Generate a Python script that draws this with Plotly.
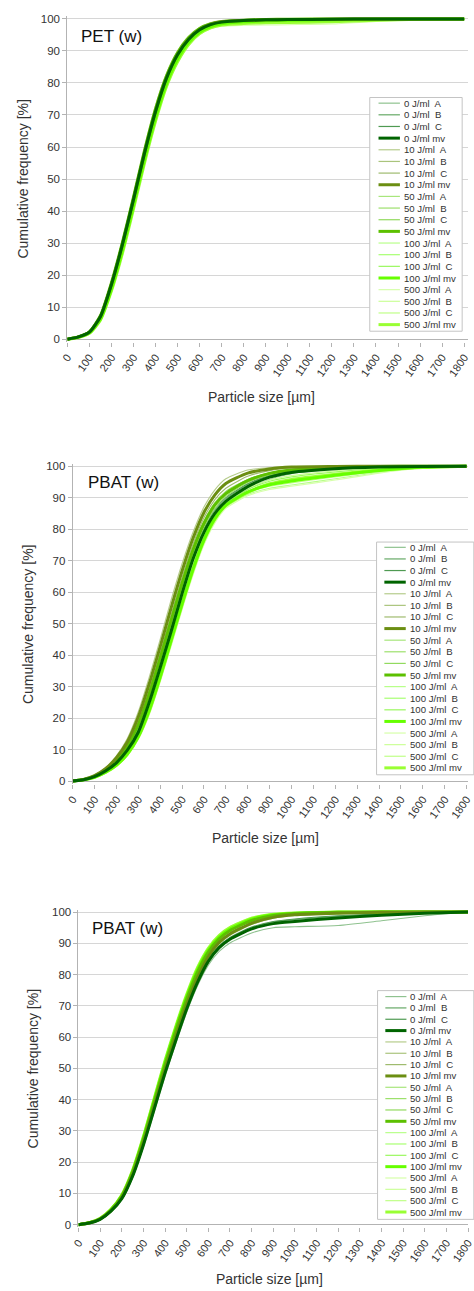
import plotly.graph_objects as go

W, H = 474, 1291

# ---------------- data ----------------
X = [0, 50, 100, 150, 200, 250, 300, 350, 400, 450, 500, 550, 600, 650, 700, 800, 900, 1000, 1200, 1400, 1600, 1800]

NAMES = ["0 J/ml  A", "0 J/ml  B", "0 J/ml  C", "0 J/ml mv",
         "10 J/ml  A", "10 J/ml  B", "10 J/ml  C", "10 J/ml mv",
         "50 J/ml  A", "50 J/ml  B", "50 J/ml  C", "50 J/ml mv",
         "100 J/ml  A", "100 J/ml  B", "100 J/ml  C", "100 J/ml mv",
         "500 J/ml  A", "500 J/ml  B", "500 J/ml  C", "500 J/ml mv"]

COLORS = ["#8fc28f", "#66a966", "#4f9a52", "#006400",
          "#b6cc8c", "#aac47c", "#9fbb6e", "#6b8e12",
          "#a8e67c", "#9de06c", "#92da5e", "#5cc000",
          "#b8ff8a", "#a8ff72", "#9af85e", "#66ff00",
          "#d6ffaa", "#ccff99", "#c0ff88", "#99ff33"]

# ---- PET (w) ----
PET_0_A = [0, 0.8, 2.4, 7.4, 17.8, 30.5, 44.6, 59.2, 72.2, 82.5, 89.6, 94.2, 97.0, 98.5, 99.2, 99.6, 99.8, 99.9, 100, 100, 100, 100]
PET_0_B = [0, 0.6, 2.0, 6.6, 16.3, 28.6, 42.6, 57.0, 70.0, 80.6, 88.0, 93.0, 96.2, 97.9, 98.8, 99.3, 99.6, 99.7, 99.9, 100, 100, 100]
PET_0_C = [0, 0.7, 2.2, 7.0, 16.9, 29.4, 43.3, 57.8, 70.9, 81.4, 88.7, 93.5, 96.5, 98.1, 98.9, 99.4, 99.7, 99.8, 99.9, 100, 100, 100]
PET_0_MV = [0, 0.7, 2.2, 7.0, 17.0, 29.5, 43.5, 58.0, 71.0, 81.5, 88.8, 93.6, 96.6, 98.2, 99.0, 99.5, 99.7, 99.8, 99.9, 100, 100, 100]
PET_10_A = [0, 0.7, 2.3, 7.2, 17.4, 30.0, 44.0, 58.5, 71.5, 82.0, 89.2, 94.0, 96.9, 98.4, 99.1, 99.6, 99.8, 99.9, 100, 100, 100, 100]
PET_10_B = [0, 0.6, 2.1, 6.8, 16.6, 29.0, 43.0, 57.5, 70.6, 81.1, 88.5, 93.4, 96.5, 98.1, 99.0, 99.5, 99.7, 99.8, 99.9, 100, 100, 100]
PET_10_C = [0, 0.7, 2.2, 7.1, 17.2, 29.8, 43.8, 58.3, 71.3, 81.8, 89.0, 93.8, 96.8, 98.3, 99.1, 99.5, 99.7, 99.8, 99.9, 100, 100, 100]
PET_10_MV = [0, 0.7, 2.2, 7.0, 17.1, 29.6, 43.6, 58.1, 71.1, 81.6, 88.9, 93.7, 96.7, 98.3, 99.1, 99.5, 99.7, 99.8, 99.9, 100, 100, 100]
PET_50_A = [0, 0.8, 2.5, 7.6, 18.2, 31.0, 45.2, 59.8, 72.8, 83.0, 90.0, 94.6, 97.3, 98.7, 99.3, 99.7, 99.9, 99.9, 100, 100, 100, 100]
PET_50_B = [0, 0.7, 2.3, 7.2, 17.5, 30.2, 44.3, 58.9, 71.9, 82.2, 89.4, 94.1, 97.0, 98.5, 99.2, 99.6, 99.8, 99.9, 100, 100, 100, 100]
PET_50_C = [0, 0.7, 2.2, 7.0, 17.0, 29.5, 43.5, 58.0, 71.0, 81.5, 88.8, 93.6, 96.6, 98.2, 99.0, 99.5, 99.7, 99.8, 99.9, 100, 100, 100]
PET_50_MV = [0, 0.7, 2.3, 7.3, 17.6, 30.2, 44.3, 58.9, 71.9, 82.2, 89.4, 94.1, 97.0, 98.5, 99.2, 99.6, 99.8, 99.9, 100, 100, 100, 100]
PET_100_A = [0, 0.6, 1.9, 6.2, 15.6, 27.7, 41.6, 56.0, 69.0, 79.8, 87.4, 92.6, 95.8, 97.6, 98.5, 99.1, 99.4, 99.6, 99.8, 99.9, 100, 100]
PET_100_B = [0, 0.5, 1.8, 6.0, 15.2, 27.2, 41.0, 55.4, 68.4, 79.2, 86.9, 92.2, 95.5, 97.4, 98.3, 98.9, 99.2, 99.4, 99.6, 99.8, 100, 100]
PET_100_C = [0, 0.6, 2.0, 6.4, 16.0, 28.2, 42.2, 56.6, 69.6, 80.3, 87.9, 93.0, 96.1, 97.8, 98.7, 99.2, 99.5, 99.7, 99.8, 99.9, 100, 100]
PET_100_MV = [0, 0.6, 1.9, 6.2, 15.6, 27.7, 41.6, 56.0, 69.0, 79.8, 87.4, 92.6, 95.8, 97.6, 98.5, 99.1, 99.4, 99.6, 99.7, 99.9, 100, 100]
PET_500_A = [0, 0.5, 1.7, 5.7, 14.6, 26.2, 40.0, 54.4, 67.4, 78.4, 86.2, 91.6, 95.0, 96.9, 97.7, 98.0, 98.1, 98.2, 98.4, 99.2, 99.8, 100]
PET_500_B = [0, 0.5, 1.8, 5.9, 15.0, 26.8, 40.6, 55.0, 68.0, 78.9, 86.6, 92.0, 95.4, 97.3, 98.2, 98.7, 98.9, 99.0, 99.3, 99.7, 99.9, 100]
PET_500_C = [0, 0.6, 1.9, 6.1, 15.4, 27.4, 41.2, 55.6, 68.6, 79.4, 87.1, 92.4, 95.7, 97.5, 98.4, 99.0, 99.3, 99.5, 99.7, 99.9, 100, 100]
PET_500_MV = [0, 0.5, 1.8, 5.9, 15.0, 26.8, 40.6, 55.0, 68.0, 78.9, 86.6, 92.0, 95.4, 97.2, 98.1, 98.6, 98.8, 98.9, 99.1, 99.6, 99.9, 100]

# ---- PBAT (w), first ----
PB1_0_A = [0, 0.4, 1.3, 3.0, 5.4, 9.2, 14.6, 23.6, 34.4, 45.8, 57.8, 68.8, 77.6, 83.8, 87.8, 92.6, 95.8, 97.6, 99.0, 99.6, 99.9, 100]
PB1_0_B = [0, 0.4, 1.4, 3.3, 6.0, 10.2, 16.2, 26.0, 37.2, 48.8, 60.8, 71.8, 80.2, 86.0, 89.6, 94.2, 97.0, 98.4, 99.4, 99.8, 100, 100]
PB1_0_C = [0, 0.5, 1.5, 3.4, 6.2, 10.5, 16.8, 26.8, 38.2, 49.8, 61.8, 72.6, 80.8, 86.5, 90.0, 94.4, 97.2, 98.5, 99.4, 99.8, 100, 100]
PB1_0_MV = [0, 0.4, 1.4, 3.2, 5.8, 9.8, 15.5, 25.0, 36.0, 47.5, 59.5, 70.5, 79.0, 85.0, 88.8, 93.5, 96.5, 98.0, 99.2, 99.7, 99.9, 100]
PB1_10_A = [0, 0.5, 1.8, 4.2, 8.0, 13.5, 22.0, 33.0, 45.0, 57.5, 69.0, 79.0, 87.0, 92.5, 96.0, 98.8, 99.6, 99.9, 100, 100, 100, 100]
PB1_10_B = [0, 0.5, 1.7, 3.9, 7.3, 12.4, 20.2, 30.6, 42.4, 54.8, 66.6, 77.0, 85.2, 90.8, 94.4, 97.8, 99.2, 99.7, 100, 100, 100, 100]
PB1_10_C = [0, 0.5, 1.6, 3.7, 6.9, 11.7, 19.0, 29.0, 40.6, 52.8, 64.6, 75.2, 83.6, 89.4, 93.0, 96.8, 98.6, 99.4, 99.8, 100, 100, 100]
PB1_10_MV = [0, 0.5, 1.7, 3.9, 7.4, 12.5, 20.4, 30.9, 42.7, 55.0, 66.7, 77.1, 85.3, 90.9, 94.5, 97.8, 99.1, 99.7, 99.9, 100, 100, 100]
PB1_50_A = [0, 0.5, 1.6, 3.6, 6.7, 11.3, 18.2, 28.0, 39.4, 51.4, 63.2, 73.8, 82.2, 88.0, 91.6, 95.6, 97.8, 98.9, 99.6, 99.9, 100, 100]
PB1_50_B = [0, 0.4, 1.5, 3.4, 6.3, 10.6, 17.0, 26.6, 37.8, 49.6, 61.4, 72.0, 80.6, 86.6, 90.4, 94.8, 97.3, 98.6, 99.5, 99.8, 100, 100]
PB1_50_C = [0, 0.5, 1.6, 3.7, 6.9, 11.6, 18.6, 28.6, 40.0, 52.0, 63.8, 74.4, 82.6, 88.4, 92.0, 95.8, 97.9, 99.0, 99.7, 99.9, 100, 100]
PB1_50_MV = [0, 0.5, 1.6, 3.6, 6.6, 11.2, 17.9, 27.7, 39.1, 51.0, 62.8, 73.4, 81.8, 87.7, 91.3, 95.4, 97.7, 98.8, 99.6, 99.9, 100, 100]
PB1_100_A = [0, 0.3, 1.1, 2.6, 4.8, 8.2, 13.5, 21.5, 32.0, 43.5, 55.0, 66.0, 75.5, 82.5, 87.0, 91.0, 93.0, 94.0, 96.0, 98.0, 99.5, 100]
PB1_100_B = [0, 0.4, 1.2, 2.8, 5.1, 8.7, 14.2, 22.6, 33.2, 44.8, 56.4, 67.4, 76.6, 83.4, 87.6, 91.8, 94.0, 95.2, 97.0, 98.6, 99.7, 100]
PB1_100_C = [0, 0.4, 1.3, 2.9, 5.3, 9.0, 14.6, 23.4, 34.2, 45.8, 57.6, 68.6, 77.6, 84.2, 88.2, 92.6, 95.2, 96.6, 98.2, 99.3, 99.9, 100]
PB1_100_MV = [0, 0.4, 1.2, 2.8, 5.1, 8.6, 14.1, 22.5, 33.1, 44.7, 56.3, 67.3, 76.6, 83.4, 87.6, 91.8, 94.1, 95.3, 97.1, 98.6, 99.7, 100]
PB1_500_A = [0, 0.3, 1.1, 2.5, 4.7, 8.0, 13.2, 21.0, 31.4, 42.8, 54.4, 65.4, 75.0, 82.0, 86.6, 90.6, 92.6, 93.6, 95.6, 97.8, 99.4, 100]
PB1_500_B = [0, 0.4, 1.3, 2.9, 5.4, 9.1, 14.8, 23.6, 34.5, 46.2, 58.0, 69.0, 78.0, 84.6, 88.6, 93.0, 95.6, 97.0, 98.5, 99.4, 99.9, 100]
PB1_500_C = [0, 0.4, 1.2, 2.7, 5.0, 8.5, 13.9, 22.1, 32.6, 44.1, 55.7, 66.7, 76.1, 83.0, 87.3, 91.4, 93.6, 94.7, 96.6, 98.3, 99.6, 100]
PB1_500_MV = [0, 0.4, 1.2, 2.7, 5.0, 8.5, 14.0, 22.2, 32.8, 44.4, 56.0, 67.0, 76.4, 83.2, 87.5, 91.7, 94.4, 95.8, 97.4, 98.8, 99.6, 100]

# ---- PBAT (w), second ----
PB2_0_A = [0, 0.5, 1.6, 4.1, 8.0, 15.0, 24.8, 36.2, 47.6, 58.0, 67.9, 76.4, 83.0, 87.4, 90.1, 93.3, 95.0, 95.3, 95.7, 97.2, 98.8, 100]
PB2_0_B = [0, 0.5, 1.7, 4.3, 8.3, 15.4, 25.4, 36.9, 48.4, 58.9, 68.9, 77.4, 84.2, 88.7, 91.5, 94.9, 96.8, 97.6, 98.6, 99.3, 99.8, 100]
PB2_0_C = [0, 0.5, 1.8, 4.4, 8.5, 15.8, 25.9, 37.5, 49.0, 59.6, 69.6, 78.1, 84.8, 89.2, 91.9, 95.2, 97.0, 97.8, 98.8, 99.4, 99.8, 100]
PB2_0_MV = [0, 0.5, 1.7, 4.3, 8.3, 15.5, 25.5, 37.0, 48.5, 59.0, 69.0, 77.5, 84.2, 88.6, 91.3, 94.6, 96.3, 97.0, 98.1, 99.0, 99.6, 100]
PB2_10_A = [0, 0.5, 1.8, 4.5, 8.7, 16.2, 26.5, 38.2, 49.9, 60.6, 70.7, 79.3, 86.0, 90.5, 93.3, 96.6, 98.5, 99.2, 99.7, 99.9, 100, 100]
PB2_10_B = [0, 0.5, 1.7, 4.3, 8.4, 15.7, 25.8, 37.4, 49.1, 59.8, 69.9, 78.5, 85.3, 89.8, 92.6, 96.0, 98.0, 98.9, 99.5, 99.8, 100, 100]
PB2_10_C = [0, 0.5, 1.8, 4.4, 8.6, 16.1, 26.3, 38.0, 49.7, 60.4, 70.5, 79.1, 85.9, 90.4, 93.1, 96.5, 98.4, 99.2, 99.7, 99.9, 100, 100]
PB2_10_MV = [0, 0.5, 1.8, 4.4, 8.6, 16.0, 26.2, 37.9, 49.6, 60.3, 70.4, 79.0, 85.8, 90.3, 93.0, 96.4, 98.3, 99.1, 99.6, 99.9, 100, 100]
PB2_50_A = [0, 0.6, 1.9, 4.8, 9.3, 17.1, 27.7, 39.7, 51.6, 62.5, 72.6, 81.1, 87.5, 91.7, 94.4, 97.5, 99.0, 99.6, 99.9, 100, 100, 100]
PB2_50_B = [0, 0.6, 1.9, 4.6, 9.0, 16.6, 27.0, 39.0, 50.9, 61.8, 71.9, 80.5, 86.9, 91.1, 93.8, 97.1, 98.8, 99.4, 99.8, 100, 100, 100]
PB2_50_C = [0, 0.6, 1.9, 4.7, 9.1, 16.8, 27.3, 39.3, 51.2, 62.1, 72.2, 80.8, 87.2, 91.4, 94.1, 97.3, 98.9, 99.5, 99.9, 100, 100, 100]
PB2_50_MV = [0, 0.6, 1.9, 4.7, 9.1, 16.8, 27.3, 39.3, 51.2, 62.1, 72.2, 80.8, 87.2, 91.4, 94.1, 97.3, 98.9, 99.5, 99.9, 100, 100, 100]
PB2_100_A = [0, 0.6, 2.0, 4.9, 9.5, 17.4, 28.2, 40.4, 52.4, 63.4, 73.5, 82.0, 88.3, 92.4, 94.9, 97.9, 99.2, 99.7, 99.9, 100, 100, 100]
PB2_100_B = [0, 0.6, 1.9, 4.7, 9.2, 16.9, 27.5, 39.6, 51.6, 62.6, 72.7, 81.2, 87.5, 91.7, 94.3, 97.5, 99.0, 99.5, 99.9, 100, 100, 100]
PB2_100_C = [0, 0.6, 1.9, 4.8, 9.3, 17.1, 27.8, 39.9, 51.9, 62.9, 73.0, 81.5, 87.8, 92.0, 94.6, 97.7, 99.1, 99.6, 99.9, 100, 100, 100]
PB2_100_MV = [0, 0.6, 1.9, 4.8, 9.3, 17.1, 27.8, 39.9, 51.9, 62.9, 73.0, 81.5, 87.8, 92.0, 94.6, 97.7, 99.1, 99.6, 99.9, 100, 100, 100]
PB2_500_A = [0, 0.6, 2.0, 5.0, 9.7, 17.7, 28.6, 40.9, 53.0, 64.0, 74.1, 82.7, 88.9, 92.9, 95.4, 98.3, 99.5, 99.8, 100, 100, 100, 100]
PB2_500_B = [0, 0.6, 2.0, 4.9, 9.5, 17.4, 28.2, 40.4, 52.5, 63.5, 73.6, 82.2, 88.4, 92.5, 95.0, 98.0, 99.3, 99.7, 100, 100, 100, 100]
PB2_500_C = [0, 0.6, 1.9, 4.8, 9.3, 17.1, 27.8, 39.9, 52.0, 63.0, 73.1, 81.7, 88.0, 92.1, 94.7, 97.8, 99.2, 99.6, 99.9, 100, 100, 100]
PB2_500_MV = [0, 0.6, 2.0, 4.9, 9.5, 17.4, 28.2, 40.4, 52.5, 63.5, 73.6, 82.2, 88.4, 92.5, 95.0, 98.0, 99.3, 99.7, 100, 100, 100, 100]

PANEL_SERIES = [
    [PET_0_A, PET_0_B, PET_0_C, PET_0_MV, PET_10_A, PET_10_B, PET_10_C, PET_10_MV,
     PET_50_A, PET_50_B, PET_50_C, PET_50_MV, PET_100_A, PET_100_B, PET_100_C, PET_100_MV,
     PET_500_A, PET_500_B, PET_500_C, PET_500_MV],
    [PB1_0_A, PB1_0_B, PB1_0_C, PB1_0_MV, PB1_10_A, PB1_10_B, PB1_10_C, PB1_10_MV,
     PB1_50_A, PB1_50_B, PB1_50_C, PB1_50_MV, PB1_100_A, PB1_100_B, PB1_100_C, PB1_100_MV,
     PB1_500_A, PB1_500_B, PB1_500_C, PB1_500_MV],
    [PB2_0_A, PB2_0_B, PB2_0_C, PB2_0_MV, PB2_10_A, PB2_10_B, PB2_10_C, PB2_10_MV,
     PB2_50_A, PB2_50_B, PB2_50_C, PB2_50_MV, PB2_100_A, PB2_100_B, PB2_100_C, PB2_100_MV,
     PB2_500_A, PB2_500_B, PB2_500_C, PB2_500_MV],
]

PANEL_TITLES = ["PET (w)", "PBAT (w)", "PBAT (w)"]
X_TITLE = "Particle size [µm]"
Y_TITLE = "Cumulative frequency [%]"
X_TICKS = list(range(0, 1900, 100))
Y_TICKS = list(range(0, 110, 10))

# ---------------- geometry (pixels) ----------------
GEOM = [
    dict(x0=62.0, ppu=0.2267, y0=338.0, y100=16.0, title=(74, 34), xt=(261.5, 396.5), yt=(17, 177),
         leg=dict(bx0=373, by0=95, bx1=468, by1=330, first=100.7, step=11.72, sx0=382, sx1=404, tx=406.5)),
    dict(x0=67.5, ppu=0.2250, y0=782.3, y100=465.7, title=(81, 482), xt=(266, 840), yt=(21, 624),
         leg=dict(bx0=380, by0=542, bx1=480, by1=776, first=547.3, step=11.67, sx0=388, sx1=410, tx=412)),
    dict(x0=73.5, ppu=0.2225, y0=1228.3, y100=914.0, title=(85, 931), xt=(270, 1283), yt=(27, 1071),
         leg=dict(bx0=381, by0=993, bx1=480, by1=1223, first=999, step=11.4, sx0=389, sx1=410.7, tx=412.3)),
]

FONT = "Liberation Sans, Arial, sans-serif"
TXT = "#333333"
GRID = "#d6d6d6"
AXL = "#b3b3b3"
PAD = 0.8  # % padding so thick lines at 0/100 are not clipped


def px(x):
    return x / W


def py(y):
    return 1 - y / H


fig = go.Figure()
layout = dict(width=W, height=H, margin=dict(l=0, r=0, t=0, b=0), showlegend=False,
              paper_bgcolor="white", plot_bgcolor="white", font=dict(family=FONT, color=TXT))
shapes, annos = [], []

for k, (series, g) in enumerate(zip(PANEL_SERIES, GEOM)):
    sx = "" if k == 0 else str(k + 1)
    xa, ya = "x" + sx, "y" + sx
    # thin lines first, then mean values (0 J/ml mv on top)
    order = [i for i in range(20) if i % 4 != 3] + [19, 15, 11, 7, 3]
    for i in order:
        mv = (i % 4 == 3)
        fig.add_trace(go.Scatter(x=X, y=series[i], name=NAMES[i], mode="lines",
                                 line=dict(color=COLORS[i], width=3 if mv else 1.1, shape="spline", smoothing=0.6),
                                 xaxis=xa, yaxis=ya, hoverinfo="name+x+y"))
    ppy = (g["y0"] - g["y100"]) / 100.0
    xmax = (W - g["x0"]) / g["ppu"]
    layout["xaxis" + sx] = dict(domain=[px(g["x0"]), 1.0], range=[0, xmax], anchor=ya,
                                tickvals=X_TICKS, ticktext=[str(t) for t in X_TICKS], tickangle=-55,
                                ticklabeloverflow="allow",
                                ticks="outside", ticklen=4, tickcolor=AXL, showgrid=False, zeroline=False,
                                showline=False, tickfont=dict(size=11, color=TXT, family=FONT))
    layout["yaxis" + sx] = dict(domain=[py(g["y0"] + PAD * ppy), py(g["y100"] - PAD * ppy)],
                                range=[-PAD, 100 + PAD], anchor=xa, tickvals=Y_TICKS,
                                ticks="outside", ticklen=4, tickcolor=AXL, showgrid=True, gridcolor=GRID,
                                gridwidth=1, zeroline=True, zerolinecolor=AXL, zerolinewidth=1,
                                showline=True, linecolor=AXL, linewidth=1,
                                tickfont=dict(size=11.5, color=TXT, family=FONT))
    # panel title
    annos.append(dict(text=PANEL_TITLES[k], x=px(g["title"][0]), y=py(g["title"][1]), xref="paper", yref="paper",
                      xanchor="left", yanchor="middle", showarrow=False, font=dict(size=17, color="#111111", family=FONT)))
    # axis titles
    annos.append(dict(text=X_TITLE, x=px(g["xt"][0]), y=py(g["xt"][1]), xref="paper", yref="paper",
                      xanchor="center", yanchor="middle", showarrow=False, font=dict(size=14, color=TXT, family=FONT)))
    annos.append(dict(text=Y_TITLE, x=px(g["yt"][0]), y=py(g["yt"][1]), xref="paper", yref="paper",
                      xanchor="center", yanchor="middle", textangle=-90, showarrow=False,
                      font=dict(size=14, color=TXT, family=FONT)))
    # legend box
    L = g["leg"]
    shapes.append(dict(type="rect", xref="paper", yref="paper", x0=px(L["bx0"]), x1=px(L["bx1"]),
                       y0=py(L["by1"]), y1=py(L["by0"]), fillcolor="white", line=dict(color="#c4c4c4", width=1),
                       layer="above"))
    for i in range(20):
        yy = L["first"] + i * L["step"]
        mv = (i % 4 == 3)
        shapes.append(dict(type="line", xref="paper", yref="paper", x0=px(L["sx0"]), x1=px(L["sx1"]),
                           y0=py(yy), y1=py(yy), line=dict(color=COLORS[i], width=3 if mv else 1.2), layer="above"))
        annos.append(dict(text=NAMES[i].replace("  ", "&nbsp; "), x=px(L["tx"]), y=py(yy), xref="paper", yref="paper",
                          xanchor="left", yanchor="middle", showarrow=False,
                          font=dict(size=9.6, color=TXT, family=FONT)))

layout["shapes"] = shapes
layout["annotations"] = annos
fig.update_layout(**layout)
fig.write_html("out.html", config={"displayModeBar": False},
               post_script="document.body.style.margin='0';document.body.style.overflow='hidden';"
                           "document.documentElement.style.overflow='hidden';")
